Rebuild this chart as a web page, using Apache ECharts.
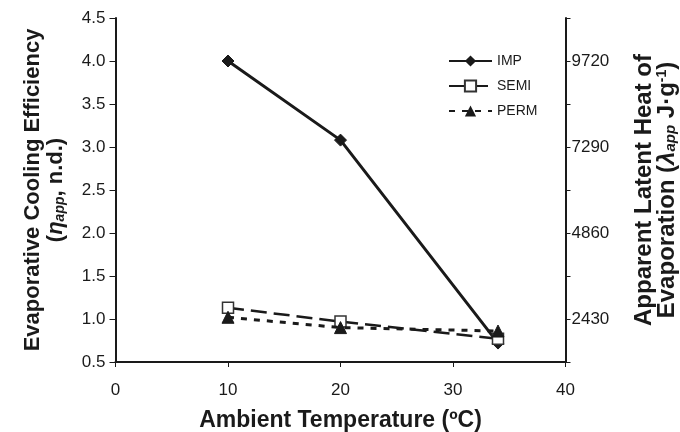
<!DOCTYPE html>
<html><head><meta charset="utf-8">
<script src="https://cdn.jsdelivr.net/npm/echarts@6/dist/echarts.min.js"></script>
<style>html,body{margin:0;padding:0;background:#fff}#c{width:680px;height:432px}</style>
</head><body><div id="c"></div>
<script>
const temps = [10, 20, 34];
const imp = [4.00, 3.08, 0.72];
const semi = [1.13, 0.97, 0.77];
const perm = [1.02, 0.90, 0.86];
const xTicks = [0, 10, 20, 30, 40];
const leftTicks = [0.5, 1.0, 1.5, 2.0, 2.5, 3.0, 3.5, 4.0, 4.5];
const rightLabels = [2430, 4860, 7290, 9720];

const F = 'Liberation Sans, Arial, sans-serif';
const C = '#1a1a1a';
const pts = v => temps.map((t, i) => [t, v[i]]);

function titleStyle(fs, lh) {
  return {
    fontFamily: F, fontSize: fs, fontWeight: 'bold', color: C, lineHeight: lh, align: 'center',
    rich: {
      t: { fontFamily: F, fontSize: fs, fontWeight: 'bold', color: C, lineHeight: lh },
      i: { fontFamily: F, fontSize: fs, fontWeight: 'bold', fontStyle: 'italic', color: C, lineHeight: lh },
      s: { fontFamily: F, fontSize: Math.round(fs * 0.62), fontWeight: 'bold', fontStyle: 'italic', color: C, lineHeight: lh, verticalAlign: 'bottom' },
      p: { fontFamily: F, fontSize: Math.round(fs * 0.58), fontWeight: 'bold', color: C, lineHeight: lh, verticalAlign: 'top' }
    }
  };
}

const chart = echarts.init(document.getElementById('c'));
chart.setOption({
  animation: false,
  grid: { left: 115.5, right: 114.5, top: 18, bottom: 70, outerBoundsMode: 'none', containLabel: false },
  legend: {
    orient: 'vertical', left: 448, top: 54, padding: 0, itemGap: 11, itemWidth: 43, itemHeight: 14,
    textStyle: { fontFamily: F, fontSize: 14, color: C },
    data: ['IMP', 'SEMI', 'PERM']
  },
  xAxis: {
    type: 'value', min: 0, max: 40, interval: 10,
    name: 'Ambient Temperature (ºC)', nameLocation: 'middle', nameGap: 47,
    nameTextStyle: { fontFamily: F, fontSize: 23, fontWeight: 'bold', color: C },
    axisLine: { lineStyle: { color: C, width: 2 } },
    axisTick: { show: true, inside: false, length: 5, lineStyle: { color: C, width: 1 } },
    axisLabel: { fontFamily: F, fontSize: 17, color: C, margin: 20 },
    splitLine: { show: false }
  },
  yAxis: [{
    type: 'value', min: 0.5, max: 4.5, interval: 0.5, position: 'left',
    name: '{t|Evaporative Cooling Efficiency}\n{t|(}{i|η}{s|app}{t|, n.d.)}',
    nameLocation: 'middle', nameRotate: 90, nameGap: 48,
    nameTextStyle: titleStyle(22, 23),
    axisLine: { show: true, lineStyle: { color: C, width: 2 } },
    axisTick: { show: true, inside: false, length: 6, lineStyle: { color: C, width: 1 } },
    axisLabel: { fontFamily: F, fontSize: 17, color: C, margin: 10, formatter: v => v.toFixed(1) },
    splitLine: { show: false }
  }, {
    type: 'value', min: 1215, max: 10935, interval: 1215, position: 'right',
    name: '{t|Apparent Latent Heat of}\n{t|Evaporation (}{i|λ}{s|app}{t| J·g}{p|-1}{t|)}',
    nameLocation: 'middle', nameRotate: 90, nameGap: 67,
    nameTextStyle: titleStyle(24, 23),
    axisLine: { show: true, lineStyle: { color: C, width: 2 } },
    axisTick: { show: true, inside: false, length: 5, lineStyle: { color: C, width: 1 } },
    axisLabel: { fontFamily: F, fontSize: 17, color: C, margin: 6,
      formatter: v => rightLabels.indexOf(Math.round(v)) >= 0 ? String(Math.round(v)) : '' },
    splitLine: { show: false }
  }],
  series: [{
    name: 'IMP', type: 'line', data: pts(imp), yAxisIndex: 0,
    symbol: 'diamond', symbolSize: 12,
    lineStyle: { color: C, width: 3, type: 'solid' },
    itemStyle: { color: C, borderColor: C }
  }, {
    name: 'SEMI', type: 'line', data: pts(semi), yAxisIndex: 0,
    symbol: 'rect', symbolSize: 11, z: 3,
    lineStyle: { color: C, width: 2.5, type: [16, 7] },
    itemStyle: { color: '#fff', borderColor: '#333', borderWidth: 1.5 }
  }, {
    name: 'PERM', type: 'line', data: pts(perm), yAxisIndex: 0,
    symbol: 'triangle', symbolSize: 12, z: 4,
    lineStyle: { color: C, width: 3, type: [6, 7] },
    itemStyle: { color: C, borderColor: C }
  }]
});
</script></body></html>
